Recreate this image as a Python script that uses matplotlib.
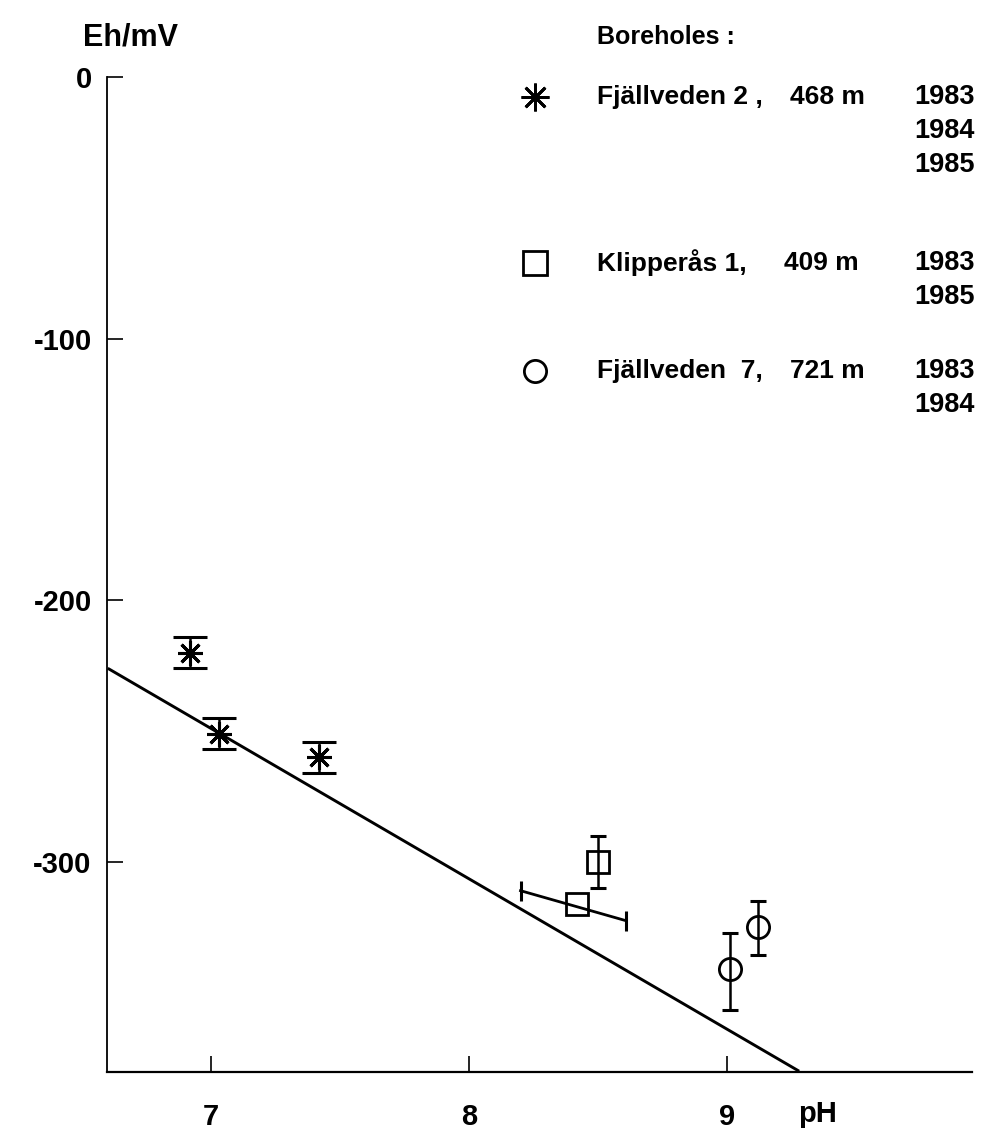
import numpy as np
import matplotlib.pyplot as plt
from matplotlib.lines import Line2D

plt.rcParams['font.family'] = ['Liberation Sans', 'DejaVu Sans']
plt.rcParams['font.weight'] = 'bold'
plt.rcParams['axes.unicode_minus'] = False

# Fjällveden 2, 468 m  (1983, 1984, 1985)
fj2_ph = [6.92, 7.03, 7.42]
fj2_eh = [-220, -251, -260]
fj2_err = [6, 6, 6]

# Klipperås 1, 409 m  (1983, 1985)
kl1_ph = [8.50, 8.42]
kl1_eh = [-300, -316]
kl1_err = [10]                 # Eh bar of the first point only
kl1_ph_bar = [8.20, 8.61]      # slanted pH bar of the second point
kl1_eh_bar = [-311, -322.5]

# Fjällveden 7, 721 m  (1983, 1984)
fj7_ph = [9.01, 9.12]
fj7_eh = [-341, -325]
fj7_err_lo = [15.5, 10.5]
fj7_err_hi = [14, 10]

# reference line
line_ph = [6.6, 9.28]
line_eh = [-226, -380]

xticks = [7, 8, 9]
yticks = [0, -100, -200, -300]

legend_names = ['Fjällveden 2 ,', 'Klipperås 1,', 'Fjällveden  7,']
legend_depths = ['468 m', '409 m', '721 m']
legend_years = [['1983', '1984', '1985'], ['1983', '1985'], ['1983', '1984']]
legend_marks = [(8, 2, 0), 's', 'o']

W, H = 983, 1133


def px(x, y):
    return x / W, 1 - y / H


fig = plt.figure(figsize=(W / 100, H / 100), dpi=100)
ax = fig.add_axes([107 / W, 1 - 1072 / H, 865 / W, 995 / H])

ax.plot(line_ph, line_eh, color='black', lw=2.1, solid_capstyle='butt')

ax.errorbar(fj2_ph, fj2_eh, yerr=fj2_err, fmt='none', ecolor='black',
            elinewidth=1.8, capsize=12, capthick=2.2)
ax.plot(fj2_ph, fj2_eh, ls='none', marker=(8, 2, 0), ms=18, mew=2.2,
        color='black')

ax.errorbar(kl1_ph[:1], kl1_eh[:1], yerr=kl1_err, fmt='none', ecolor='black',
            elinewidth=1.8, capsize=5.5, capthick=2.2)
ax.plot(kl1_ph_bar, kl1_eh_bar, color='black', lw=2)
ax.plot(kl1_ph_bar, kl1_eh_bar, ls='none', marker='|', ms=14, mew=2.2,
        color='black')
ax.plot(kl1_ph, kl1_eh, ls='none', marker='s', ms=16, mew=2, mfc='none',
        mec='black')

ax.errorbar(fj7_ph, fj7_eh, yerr=[fj7_err_lo, fj7_err_hi], fmt='none',
            ecolor='black', elinewidth=1.8, capsize=5.5, capthick=2.2)
ax.plot(fj7_ph, fj7_eh, ls='none', marker='o', ms=16, mew=2, mfc='none',
        mec='black')

ax.set_xlim(6.597, 9.95)
ax.set_ylim(-380.3, 0)
ax.spines['top'].set_visible(False)
ax.spines['right'].set_visible(False)
ax.spines['left'].set_linewidth(1.3)
ax.spines['bottom'].set_linewidth(1.6)

ax.set_xticks(xticks)
ax.set_xticklabels([str(v) for v in xticks])
ax.set_yticks(yticks)
ax.set_yticklabels([str(v) for v in yticks])
ax.tick_params(axis='both', direction='in', length=11.5, width=1.2,
               labelsize=21)
ax.tick_params(axis='x', pad=22)
ax.tick_params(axis='y', pad=11)
for lab in ax.get_xticklabels() + ax.get_yticklabels():
    lab.set_fontweight('bold')

fig.text(*px(83, 38), 'Eh/mV', fontsize=22, fontweight='bold',
         ha='left', va='center')
fig.text(*px(818, 1114), 'pH', fontsize=21, fontweight='bold',
         ha='center', va='center')

# legend block
fig.text(*px(597, 37), 'Boreholes :', fontsize=18, fontweight='bold',
         ha='left', va='center')
row_y = [97, 263, 371]
depth_x = [790, 784, 790]
mark_size = [20, 17, 16]
for i in range(3):
    fig.add_artist(Line2D([535 / W], [1 - row_y[i] / H],
                          marker=legend_marks[i], ms=mark_size[i], mew=2,
                          mfc='none', mec='black', ls='none',
                          transform=fig.transFigure))
    fig.text(*px(597, row_y[i]), legend_names[i], fontsize=19,
             fontweight='bold', ha='left', va='center')
    fig.text(*px(depth_x[i], row_y[i]), legend_depths[i], fontsize=19,
             fontweight='bold', ha='left', va='center')
    for j, yr in enumerate(legend_years[i]):
        fig.text(*px(975, row_y[i] + 34 * j), yr, fontsize=19.5,
                 fontweight='bold', ha='right', va='center')

fig.savefig('out.png', dpi=100)
